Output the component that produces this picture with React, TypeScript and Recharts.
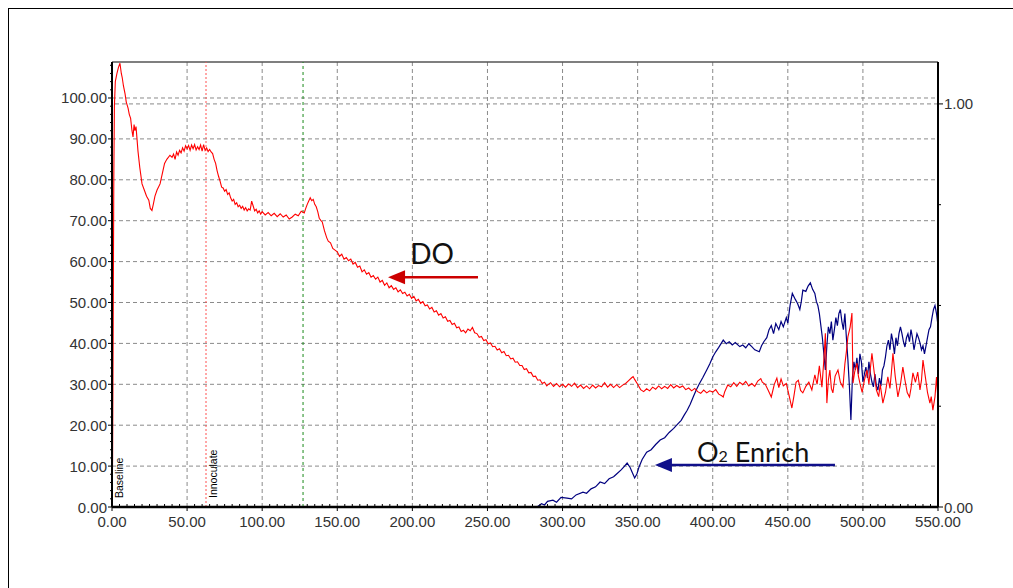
import React from 'react'
import { LineChart, Line, XAxis, YAxis, ReferenceLine } from 'recharts'

// DO (%): [time, value]
const DO_POINTS: [number, number][] = [
  [0, 0], [0.4, 12], [0.8, 45], [1.2, 80], [1.6, 98], [2.2, 104], [3.3, 106], [4.3, 107.5], [5.3, 108.5],
  [6.2, 106], [6.8, 105], [7.6, 103], [8.7, 101], [9.5, 99], [10.7, 97.5], [11.5, 96], [12.4, 95],
  [13.3, 92], [14, 90.5], [14.7, 93.5], [15.3, 92], [16, 93], [17.3, 87], [18.5, 83], [20, 79],
  [21.5, 77.5], [23, 76], [24.5, 75], [25.5, 73], [26.6, 72.5], [27.5, 74], [28.6, 76], [30, 77.5],
  [32, 79], [33.5, 81.5], [35, 84], [36.5, 85], [38.6, 86],
  [40, 85.5], [41, 86.3], [42, 85], [43, 86.8], [44, 86], [45, 87.2], [46, 86.6], [47, 87.8], [48, 87],
  [49, 88.3], [50, 87.6], [51, 88.4], [52, 87.2], [53, 88.5], [54, 87.6], [55, 88.6], [56, 87.3],
  [57, 88.1], [58, 87.4], [59, 88.5], [60, 87], [61, 88.6], [62, 87.2], [63, 87.8], [64, 86.9],
  [65, 87.4], [66, 86.8], [67, 86.4], [68, 85], [69, 84], [70, 82.2], [71, 80.8], [72, 79.6], [73, 78.2],
  [74, 78], [75, 77.2], [76, 77.6], [77, 76.4], [78, 76.8], [79, 75.6], [80, 74.8], [81, 75.2], [82, 74],
  [83, 74.4], [84, 73.4], [85, 73.8], [86, 73], [87, 73.5], [88, 72.6], [89, 73.2], [90, 72.4],
  [91, 72.9], [92, 72.6], [93, 74.8], [94, 73.6], [95, 72.4], [96, 72.8], [97, 71.9], [98, 72.4],
  [99, 71.6], [100, 72.2], [102, 71.4], [104, 72], [106, 71.2], [108, 71.8], [110, 71], [112, 71.7],
  [114, 70.9], [116, 71.4], [118, 70.4], [120, 70.9], [122, 71.6], [124, 71.2], [126, 72.3], [128, 71.9],
  [129, 73], [130, 74], [131, 74.8], [132, 75.6], [133, 74.9], [134, 75.2], [135, 74], [136, 73.4],
  [137, 72.2], [138, 70.6], [139, 70.1],
  [140, 69.7], [141.5, 67.5], [143, 65.8], [144, 65], [145.5, 64.6], [147, 63.2], [148.5, 62.8],
  [150, 62.4], [151.5, 61.3], [153, 61.8], [154.5, 60.6], [156, 61], [157.5, 60.2], [159, 60.6],
  [160.5, 59.4], [162, 59.8], [163.5, 58.6], [165, 58.9], [166.5, 57.5], [168, 58], [169.5, 56.9],
  [171, 57.3], [172.5, 56.2], [174, 56.6], [175.5, 55.7], [177, 56.2], [178.5, 55], [180, 55.4],
  [181.5, 54.2], [183, 54.8], [184.5, 53.6], [186, 54.1], [187.5, 53.2], [189, 53.6], [190.5, 52.6],
  [192, 53.1], [193.5, 52.2], [195, 52.5], [196.5, 51.6], [198, 52], [199.5, 51], [201, 51.5],
  [202.5, 50.4], [204, 50.8], [205.5, 49.8], [207, 50.2], [208.5, 49.2], [210, 49.4], [211.5, 48.4],
  [213, 48.8], [214.5, 47.7], [216, 48], [217.5, 46.9], [219, 47.3], [220.5, 46.2], [222, 46.5],
  [223.5, 45.4], [225, 45.6], [226.5, 44.6], [228, 44.9], [229.5, 43.8], [231, 44], [232.5, 42.9],
  [234, 43.2], [235.5, 42.6], [237, 43.5], [238.5, 43.1], [240, 43.9], [241.5, 42.6], [243, 42.4],
  [244.5, 41.5], [246, 41.7], [247.5, 40.7], [249, 40.9], [250.5, 39.9], [252, 40.1], [253.5, 39.2],
  [255, 39.3], [256.5, 38.4], [258, 38.7], [259.5, 37.7], [261, 38], [262.5, 37], [264, 37.1],
  [265.5, 36.2], [267, 36.4], [268.5, 35.4], [270, 35.5], [271.5, 34.6], [273, 34.6], [274.5, 33.6],
  [276, 33.8], [277.5, 32.8], [279, 32.9], [280.5, 31.9], [282, 32], [283.5, 31], [285, 31.1],
  [286.5, 30.2], [288, 30.5], [289.5, 29.6],
  [290, 29.8], [292, 30.4], [294, 29.5], [296, 30.2], [298, 29.4], [300, 30], [302, 29.3], [304, 30.1],
  [306, 29.5], [308, 30.3], [310, 29.2], [312, 29.8], [314, 29], [316, 29.6], [318, 28.9], [320, 29.8],
  [322, 29.1], [324, 29.7], [326, 29.4], [328, 30.4], [330, 29.3], [332, 30], [334, 29.2], [336, 29.9],
  [338, 29.2], [340, 29.8], [342, 30.2], [344, 30.9], [346, 31.6], [347, 31.9], [348, 31.2], [350, 30],
  [352, 28.7], [354, 28.2], [356, 28.9], [358, 28.4], [360, 29.3], [362, 28.8], [364, 29.6], [366, 28.9],
  [368, 29.5], [370, 29], [372, 29.9], [374, 29.1], [376, 29.7], [378, 29.2], [380, 29.6], [382, 28.7],
  [384, 29.1], [386, 28.4], [388, 29], [390, 28.2], [392, 27.8], [394, 28.6], [396, 27.9], [398, 28.4],
  [400, 28.1], [402, 28.7], [404, 27.6], [406, 27.2], [407, 26.9], [408, 28.2], [410, 29.8], [412, 29.4],
  [414, 30.4], [416, 29.5], [418, 30.5], [420, 29.9], [422, 30.7], [424, 29.6], [426, 30.2], [428, 29.5],
  [430, 30.8], [432, 31.4], [433, 30.5], [435, 30], [437, 28.5], [439, 26.9], [441, 30], [442.7, 31.5],
  [444, 29.2], [445.5, 31.3], [447, 29.6], [449, 30.2], [451, 27],
  [452.7, 24.2], [454, 27], [455.5, 30.5], [457, 31], [458.5, 28.5], [460, 27.9], [462, 29.5], [464, 30.5],
  [466, 28.6], [467, 30.5], [468, 32.3], [469.5, 30], [471, 34.5], [472.7, 29.3], [474, 36], [475, 42.5],
  [476, 25.4], [477, 31], [478, 33.5], [479, 29], [480, 27.9], [481.5, 32], [483.4, 33.5], [485, 30.5],
  [486.7, 29.3], [488, 35], [489, 38], [490, 41.6], [491.5, 44], [492.7, 47.4], [493.4, 30.3], [494.5, 33],
  [496, 35.2], [497, 32], [498, 30.3], [499.5, 28], [501, 31], [502.7, 33.5], [504, 30], [505, 34],
  [506, 37.6], [507.5, 33], [509, 28.6], [510.5, 27], [511.5, 30], [513.3, 25.4], [515, 28], [516.6, 31.8],
  [518, 29], [519, 33], [520, 37.6], [521.5, 32], [523.3, 26.9], [525, 30], [526.6, 34.2], [528, 31],
  [529.5, 28], [531, 26.9], [532, 29], [533.3, 32.8], [535, 30.5], [536.5, 33], [538, 28.6], [539, 31],
  [540, 35.9], [541.5, 32], [543, 28], [544.6, 25.4], [545.5, 27], [546.6, 23.7], [548, 27], [549, 31.8],
  [550, 26],
]

// O2 enrichment fraction (right axis), blue trace
const O2_POINTS: [number, number][] = [
  [283, 0], [286, 0.008], [288, 0.005], [290, 0.014], [293.6, 0.017], [296, 0.012], [299, 0.024],
  [303, 0.022], [306, 0.02], [309, 0.03], [313.6, 0.037], [316, 0.034], [319, 0.045], [322, 0.05],
  [325, 0.062], [328, 0.058], [331, 0.07], [334, 0.075], [336, 0.082], [339, 0.092], [341, 0.1],
  [343, 0.109], [345, 0.098], [346.5, 0.085], [348, 0.072], [349.5, 0.082], [351, 0.1], [353, 0.118],
  [356, 0.136], [359, 0.142], [362, 0.155], [365, 0.166], [368, 0.172], [371, 0.185], [374, 0.195],
  [376, 0.203], [379, 0.215], [381, 0.228], [383, 0.24], [385, 0.255], [387, 0.273], [389, 0.29],
  [391, 0.305], [393.5, 0.322], [396, 0.34], [398, 0.355], [400, 0.372], [402, 0.385], [404, 0.396],
  [407, 0.414], [409, 0.405], [411, 0.41], [413, 0.402], [415, 0.408], [418, 0.398], [420, 0.402],
  [422, 0.395], [424, 0.405], [426, 0.398], [428, 0.39], [431, 0.385], [432.5, 0.4], [434, 0.41],
  [436, 0.42], [437.5, 0.44], [439, 0.45], [440.5, 0.43], [442, 0.455], [444, 0.44], [445.5, 0.46],
  [447, 0.447], [449, 0.47], [450, 0.456], [451.5, 0.5], [453, 0.53], [455, 0.515], [456.5, 0.505],
  [458, 0.49], [459, 0.51], [460, 0.538], [462, 0.535], [463.5, 0.548], [465, 0.556], [466.5, 0.54],
  [468, 0.53], [469, 0.51], [470, 0.5], [471, 0.48], [472, 0.45], [473, 0.42], [474, 0.38], [475, 0.34],
  [476, 0.4], [477, 0.447], [478, 0.43], [479, 0.46], [480, 0.414], [481, 0.44], [482, 0.47], [483, 0.45],
  [484, 0.48], [485, 0.49], [486, 0.46], [487, 0.44], [488, 0.48], [489, 0.42], [490, 0.365], [491, 0.3],
  [492, 0.216], [493, 0.32], [494, 0.36], [495, 0.34], [496, 0.37], [497, 0.33], [498, 0.38], [499, 0.36],
  [500, 0.31], [501, 0.33], [502, 0.347], [503, 0.32], [504, 0.36], [505, 0.33], [506, 0.31], [507, 0.298],
  [508, 0.33], [509, 0.3], [510, 0.29], [511, 0.32], [512, 0.3], [513, 0.34], [514, 0.35], [515, 0.372],
  [516, 0.4], [517, 0.414], [518, 0.39], [519, 0.43], [520, 0.41], [521, 0.38], [522, 0.42], [523, 0.4],
  [524, 0.43], [525, 0.447], [526, 0.43], [527, 0.41], [528, 0.397], [529, 0.42], [530, 0.43], [531, 0.41],
  [532, 0.44], [533, 0.42], [534, 0.39], [535, 0.41], [536, 0.43], [537, 0.42], [538, 0.407], [539, 0.39],
  [540, 0.4], [541, 0.38], [542, 0.4], [543, 0.42], [544, 0.44], [545, 0.447], [546, 0.47], [547, 0.49],
  [548, 0.5], [549, 0.48], [550, 0.45],
]

const X_MAJOR = [0, 50, 100, 150, 200, 250, 300, 350, 400, 450, 500, 550]
const LEFT_MAJOR = [0, 10, 20, 30, 40, 50, 60, 70, 80, 90, 100]
const RIGHT_TICKS = [0, 0.25, 0.5, 0.75, 1]
const RIGHT_LABELS = [0, 1]
const X_GRID = [50, 100, 150, 200, 250, 300, 350, 400, 450, 500]
const Y_GRID = [10, 20, 30, 40, 50, 60, 70, 80, 90, 100]
const LEFT_MAX = 108.8
const RIGHT_MAX = 1.104
const BASELINE_AT = 0
const INOCULATE_AT = 62.6
const GREEN_MARK_AT = 127.2

const doData = DO_POINTS.map(([x, v]) => ({ x, v }))
const o2Data = O2_POINTS.map(([x, v]) => ({ x, v }))

const xMinor: number[] = []
for (let t = 0; t <= 550; t += 5) xMinor.push(t)
const leftMinor: number[] = []
for (let t = 0; t <= 108; t += 2) leftMinor.push(t)

const labelFont = { fontFamily: 'Liberation Sans, Arial, sans-serif', fontSize: 15, fill: '#333' }
const gridStroke = '#8a8a8a'

function XTick({ x, y, payload }: any) {
  const v = payload.value
  if (X_MAJOR.includes(v)) {
    return (
      <g>
        <line x1={x} y1={y} x2={x} y2={y + 4} stroke="#000" />
        <text x={x} y={y + 20} textAnchor="middle" {...labelFont}>{v.toFixed(2)}</text>
      </g>
    )
  }
  return <line x1={x} y1={y} x2={x} y2={y - 3} stroke="#000" />
}

function LeftTick({ x, y, payload }: any) {
  const v = payload.value
  if (LEFT_MAJOR.includes(v)) {
    return (
      <g>
        <line x1={x} y1={y} x2={x - 4} y2={y} stroke="#000" />
        <text x={x - 5} y={y + 5.5} textAnchor="end" {...labelFont}>{v.toFixed(2)}</text>
      </g>
    )
  }
  return <line x1={x} y1={y} x2={x - 2} y2={y} stroke="#000" />
}

function RightTick({ x, y, payload }: any) {
  const v = payload.value
  if (RIGHT_LABELS.includes(v)) {
    return (
      <g>
        <line x1={x} y1={y} x2={x + 5} y2={y} stroke="#000" />
        <text x={x + 6} y={y + 5.5} textAnchor="start" {...labelFont}>{v.toFixed(2)}</text>
      </g>
    )
  }
  return <line x1={x} y1={y} x2={x + 3} y2={y} stroke="#000" />
}

function MarkerLabel({ viewBox, text }: any) {
  if (!viewBox) return null
  const tx = viewBox.x + 11
  const ty = viewBox.y + viewBox.height - 9
  return (
    <text
      x={tx}
      y={ty}
      transform={`rotate(-90 ${tx} ${ty})`}
      fontFamily="Liberation Sans, Arial, sans-serif"
      fontSize={10.5}
      fill="#000"
    >
      {text}
    </text>
  )
}

function arrowShape(color: string, label: React.ReactNode) {
  return (p: any) => {
    const { x1, y1, x2, y2 } = p
    return (
      <g>
        <line x1={x1} y1={y1} x2={x2 + 14} y2={y2} stroke={color} strokeWidth={2.5} />
        <polygon points={`${x2},${y2} ${x2 + 17},${y2 - 7} ${x2 + 17},${y2 + 7}`} fill={color} />
        {label}
      </g>
    )
  }
}

export default function App() {
  return (
    <div style={{ position: 'relative', width: 1030, height: 620, background: '#fff' }}>
      <style>{'html,body{overflow:hidden} body{width:1100px;height:700px} #root{width:1100px}'}</style>
      <div style={{ position: 'absolute', left: -1, top: -1, width: 1030, height: 2, background: '#000' }} />
      <div style={{ position: 'absolute', left: -1, top: -1, width: 2, height: 620, background: '#000' }} />
      <div style={{ position: 'absolute', left: 0, top: 0 }}>
        <LineChart width={1030} height={600} margin={{ top: 54, right: 50, bottom: 71, left: 0 }}>
          <XAxis
            dataKey="x"
            type="number"
            domain={[0, 550]}
            ticks={xMinor}
            interval={0}
            tick={<XTick />}
            tickLine={false}
            tickSize={0}
            tickMargin={0}
            height={30}
            axisLine={{ stroke: '#000', strokeWidth: 2.5 }}
          />
          <YAxis
            yAxisId="left"
            domain={[0, LEFT_MAX]}
            ticks={leftMinor}
            interval={0}
            tick={<LeftTick />}
            tickLine={false}
            tickSize={0}
            tickMargin={0}
            width={104}
            axisLine={{ stroke: '#000', strokeWidth: 2 }}
          />
          <YAxis
            yAxisId="right"
            orientation="right"
            domain={[0, RIGHT_MAX]}
            ticks={RIGHT_TICKS}
            interval={0}
            tick={<RightTick />}
            tickLine={false}
            tickSize={0}
            tickMargin={0}
            width={50}
            axisLine={{ stroke: '#000', strokeWidth: 2 }}
          />

          {X_GRID.map((g) => (
            <ReferenceLine key={'xg' + g} x={g} yAxisId="left" stroke={gridStroke} strokeDasharray="4 3" />
          ))}
          {Y_GRID.map((g) => (
            <ReferenceLine key={'yg' + g} y={g} yAxisId="left" stroke={gridStroke} strokeDasharray="4 3" />
          ))}
          <ReferenceLine y={1} yAxisId="right" stroke={gridStroke} strokeDasharray="4 3" />
          <ReferenceLine y={LEFT_MAX} yAxisId="left" stroke="#555" strokeWidth={1.5} />

          <ReferenceLine
            x={BASELINE_AT}
            yAxisId="left"
            stroke="#ff5050"
            strokeDasharray="2 2"
            label={<MarkerLabel text="Baseline" />}
          />
          <ReferenceLine
            x={INOCULATE_AT}
            yAxisId="left"
            stroke="#ff5050"
            strokeDasharray="2 2"
            label={<MarkerLabel text="Innoculate" />}
          />
          <ReferenceLine x={GREEN_MARK_AT} yAxisId="left" stroke="#1a8a1a" strokeDasharray="3 3" />

          <Line
            data={o2Data}
            dataKey="v"
            yAxisId="right"
            type="linear"
            stroke="#00007f"
            strokeWidth={1.2}
            dot={false}
            isAnimationActive={false}
          />
          <Line
            data={doData}
            dataKey="v"
            yAxisId="left"
            type="linear"
            stroke="#ff0000"
            strokeWidth={1.1}
            dot={false}
            isAnimationActive={false}
          />

          <ReferenceLine
            yAxisId="left"
            segment={[{ x: 243.7, y: 56.2 }, { x: 183.8, y: 56.2 }]}
            shape={(p: any) =>
              arrowShape(
                '#cc0000',
                <text
                  x={p.x2 + 44}
                  y={p.y2 - 13}
                  textAnchor="middle"
                  fontFamily="Lato, sans-serif"
                  fontSize={28}
                  fill="#111"
                >
                  DO
                </text>
              )(p)
            }
          />
          <ReferenceLine
            yAxisId="left"
            segment={[{ x: 481.4, y: 10.27 }, { x: 361.5, y: 10.27 }]}
            shape={(p: any) =>
              arrowShape(
                '#10108a',
                <text x={p.x2 + 42} y={p.y2 - 3} fontFamily="Lato, sans-serif" fontSize={27} fill="#111">
                  O<tspan fontSize={16}>2</tspan> Enrich
                </text>
              )(p)
            }
          />
        </LineChart>
      </div>
    </div>
  )
}
